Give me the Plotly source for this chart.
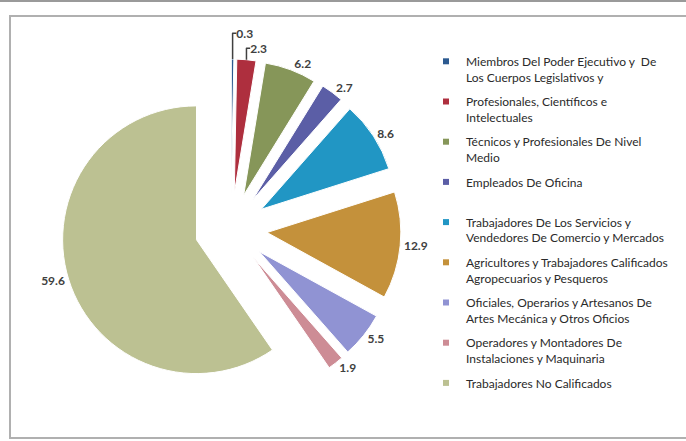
import plotly.graph_objects as go

# Occupational groups and their shares (%)
categories = [
    "Miembros Del Poder Ejecutivo y  De<br>Los Cuerpos Legislativos y",
    "Profesionales, Científicos e<br>Intelectuales",
    "Técnicos y Profesionales De Nivel<br>Medio",
    "Empleados De Oficina<br> ",
    "Trabajadores De Los Servicios y<br>Vendedores De Comercio y Mercados",
    "Agricultores y Trabajadores Calificados<br>Agropecuarios y Pesqueros",
    "Oficiales, Operarios y Artesanos De<br>Artes Mecánica y Otros Oficios",
    "Operadores y Montadores De<br>Instalaciones y Maquinaria",
    "Trabajadores No Calificados<br> ",
]
values = [0.3, 2.3, 6.2, 2.7, 8.6, 12.9, 5.5, 1.9, 59.6]
colors = [
    "#2C5A90", "#AE2F3E", "#869659", "#5B5EA6", "#2196C4",
    "#C4913B", "#9093D3", "#CD8C95", "#BCC192",
]

W, H = 686, 441

fig = go.Figure()

fig.add_trace(
    go.Pie(
        labels=categories,
        values=values,
        sort=False,
        direction="clockwise",
        rotation=0,
        pull=[0.27] * len(values),
        marker=dict(colors=colors, line=dict(color="white", width=1)),
        textinfo="value",
        textposition="outside",
        textfont=dict(family="Lato", size=12, color="#404040", weight="bold"),
        domain=dict(x=[61 / W, 401 / W], y=[1 - 399 / H, 1 - 59 / H]),
        hoverinfo="skip",
        showlegend=False,
    )
)

# legend entries with small square keys, one group each so the gap applies
for i, (name, color) in enumerate(zip(categories, colors)):
    fig.add_trace(
        go.Scatter(
            x=[None],
            y=[None],
            mode="markers",
            name=name,
            legendgroup=f"g{i}",
            marker=dict(symbol="square", size=6, color=color),
            hoverinfo="skip",
        )
    )

# Chart frame
fig.add_shape(type="line", xref="paper", yref="paper", x0=0, x1=1,
              y0=1 - 1 / H, y1=1 - 1 / H, line=dict(color="#9a9a9a", width=2))
fig.add_shape(type="rect", xref="paper", yref="paper", x0=10 / W, x1=1.05,
              y0=1 - 438 / H, y1=1 - 16 / H, line=dict(color="#b0b0b0", width=2))

fig.update_layout(
    width=W,
    height=H,
    margin=dict(l=0, r=0, t=0, b=0, autoexpand=False),
    showlegend=True,
    xaxis=dict(visible=False),
    yaxis=dict(visible=False),
    legend=dict(
        x=426 / W,
        y=1 - 47 / H,
        xanchor="left",
        yanchor="top",
        valign="top",
        traceorder="grouped",
        tracegroupgap=6,
        font=dict(family="Lato", size=12, color="#2a2a2a"),
        bgcolor="rgba(0,0,0,0)",
    ),
    plot_bgcolor="white",
    paper_bgcolor="white",
)

fig.write_html(
    "out.html",
    config={"displayModeBar": False},
    post_script="document.body.style.margin='0';",
)
